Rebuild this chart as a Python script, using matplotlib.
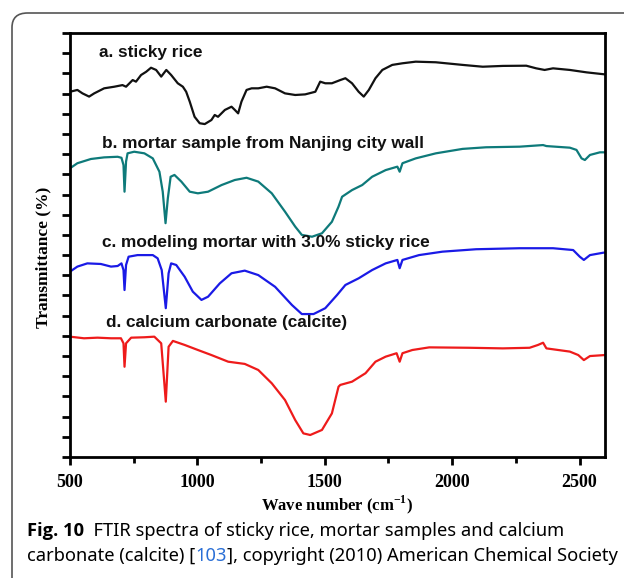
import matplotlib
matplotlib.use('Agg')
import numpy as np
import matplotlib.pyplot as plt
from matplotlib.patches import FancyBboxPatch

wn_a = [500, 529, 549, 575, 595, 634, 674, 706, 720, 746, 759, 779, 799, 818, 838, 858, 878,
        897, 923, 943, 956, 970, 989, 1009, 1029, 1055, 1068, 1081, 1108, 1134, 1147, 1160,
        1173, 1193, 1213, 1239, 1272, 1305, 1344, 1384, 1423, 1463, 1482, 1502, 1528, 1561,
        1581, 1607, 1633, 1653, 1673, 1699, 1726, 1765, 1805, 1857, 1936, 2041, 2120, 2199,
        2291, 2330, 2363, 2396, 2462, 2528, 2600]
t_a = [18.09, 18.18, 18.01, 17.85, 18.01, 18.26, 18.34, 18.42, 18.34, 18.67, 18.59, 18.92,
       19.08, 19.28, 19.17, 18.84, 19.17, 18.92, 18.51, 18.34, 18.09, 17.60, 16.85, 16.53,
       16.49, 16.69, 16.94, 16.85, 17.19, 17.35, 17.19, 17.02, 17.60, 18.18, 18.26, 18.26,
       18.34, 18.26, 18.01, 17.93, 17.96, 18.09, 18.59, 18.51, 18.51, 18.67, 18.76, 18.51,
       18.09, 17.85, 18.18, 18.76, 19.17, 19.42, 19.50, 19.58, 19.55, 19.42, 19.33, 19.37,
       19.38, 19.25, 19.17, 19.25, 19.17, 19.05, 18.95]

wn_b = [500, 529, 582, 634, 687, 702, 710, 714, 720, 726, 752, 792, 825, 851, 864, 875, 884,
        895, 910, 937, 970, 1002, 1042, 1095, 1147, 1193, 1239, 1292, 1344, 1384, 1410, 1450,
        1489, 1528, 1554, 1568, 1607, 1647, 1686, 1739, 1785, 1794, 1805, 1857, 1936, 2041,
        2133, 2265, 2357, 2370, 2462, 2488, 2508, 2521, 2541, 2580, 2600]
t_b = [14.30, 14.55, 14.76, 14.84, 14.87, 14.82, 14.46, 13.14, 14.63, 15.04, 15.12, 15.04,
       14.79, 14.13, 13.14, 11.58, 12.81, 13.88, 13.97, 13.64, 13.14, 13.06, 13.14, 13.47,
       13.72, 13.83, 13.64, 13.06, 12.15, 11.41, 11.00, 10.91, 11.08, 11.65, 12.40, 12.89,
       13.22, 13.47, 13.88, 14.21, 14.38, 14.13, 14.55, 14.79, 15.04, 15.26, 15.34, 15.37,
       15.45, 15.40, 15.32, 15.21, 14.79, 14.71, 14.96, 15.09, 15.09]

wn_c = [500, 529, 568, 621, 661, 687, 702, 710, 714, 720, 730, 765, 825, 844, 860, 876, 887,
        897, 917, 950, 982, 1016, 1042, 1088, 1134, 1186, 1239, 1305, 1371, 1410, 1456, 1502,
        1548, 1581, 1633, 1686, 1739, 1785, 1794, 1805, 1870, 1962, 2094, 2265, 2396, 2475,
        2501, 2517, 2541, 2594, 2600]
t_c = [9.18, 9.43, 9.59, 9.56, 9.43, 9.46, 9.59, 9.26, 8.27, 9.51, 9.92, 10.00, 10.00, 9.84,
       9.26, 7.37, 9.10, 9.59, 9.51, 8.93, 8.19, 7.78, 7.94, 8.60, 9.10, 9.23, 9.01, 8.43,
       7.53, 7.08, 7.08, 7.37, 8.02, 8.52, 8.85, 9.26, 9.59, 9.76, 9.35, 9.76, 10.00, 10.17,
       10.29, 10.34, 10.34, 10.25, 9.92, 9.76, 10.00, 10.12, 10.12]

wn_d = [500, 555, 608, 661, 700, 710, 714, 720, 740, 792, 831, 858, 876, 887, 904, 950, 1002,
        1055, 1121, 1186, 1239, 1292, 1344, 1384, 1416, 1443, 1489, 1528, 1554, 1561, 1607,
        1660, 1699, 1739, 1782, 1794, 1805, 1844, 1910, 2067, 2199, 2304, 2337, 2357, 2370,
        2462, 2495, 2517, 2541, 2600]
t_d = [5.96, 5.88, 5.91, 5.88, 5.88, 5.63, 4.47, 5.63, 5.91, 5.93, 5.96, 5.63, 2.74, 5.46,
       5.75, 5.55, 5.30, 5.05, 4.72, 4.61, 4.31, 3.65, 2.82, 1.83, 1.17, 1.09, 1.34, 2.16,
       3.48, 3.57, 3.73, 4.15, 4.72, 4.97, 5.14, 4.72, 5.14, 5.30, 5.43, 5.41, 5.38, 5.41,
       5.55, 5.66, 5.38, 5.22, 5.05, 4.80, 5.00, 5.05]

curve_labels = ['a. sticky rice', 'b. mortar sample from Nanjing city wall',
                'c. modeling mortar with 3.0% sticky rice', 'd. calcium carbonate (calcite)']
label_x = [614, 626, 626, 642]
label_y = [20.01, 15.55, 10.60, 6.64]
colors = ['#111111', '#0e7a7a', '#1a1ae6', '#ee1b1b']
x_ticks = [500, 1000, 1500, 2000, 2500]

plt.rcParams['mathtext.fontset'] = 'custom'
plt.rcParams['mathtext.rm'] = 'Liberation Serif:bold'
plt.rcParams['mathtext.bf'] = 'Liberation Serif:bold'

fig = plt.figure(figsize=(6.24, 5.78), dpi=100)

# rounded frame around the figure panel
frame = FancyBboxPatch((12 / 624, -0.2), 1.2, 1.2 - 13 / 578,
                       boxstyle='round,pad=0,rounding_size=0.025',
                       transform=fig.transFigure, fill=False,
                       edgecolor='#555555', lw=1.2)
fig.patches.append(frame)

ax = fig.add_axes([70 / 624, 1 - 457 / 578, 535 / 624, 424 / 578])
for wn, t, c in zip([wn_a, wn_b, wn_c, wn_d], [t_a, t_b, t_c, t_d], colors):
    ax.plot(wn, t, color=c, lw=1.6)

for lab, lx, ly in zip(curve_labels, label_x, label_y):
    ax.text(lx, ly, lab, fontsize=12.4, fontweight='bold', family='Liberation Sans',
            va='center', ha='left', color='#111111')

ax.set_xlim(500, 2600)
ax.set_ylim(0, 21)
ax.set_xticks(x_ticks)
ax.set_xticks(np.arange(750, 2600, 500), minor=True)
ax.set_yticks(np.arange(0, 22))
ax.set_yticklabels([])
ax.tick_params(axis='both', which='major', direction='out', length=6, width=2)
ax.tick_params(axis='x', which='minor', direction='out', length=4, width=2)
ax.tick_params(axis='x', pad=6)
for lab in ax.get_xticklabels():
    lab.set_family('Liberation Serif')
    lab.set_fontweight('bold')
    lab.set_fontsize(13)
for sp in ax.spines.values():
    sp.set_linewidth(2)

ax.set_xlabel('Wave number (cm$^{-1}$)', family='Liberation Serif', fontweight='bold',
              fontsize=12, labelpad=2)
ax.set_ylabel('Transmittance (%)', family='Liberation Serif', fontweight='bold',
              fontsize=12.5)
ax.yaxis.set_label_coords(-0.034, 0.47)

# caption
cap_size = 13.2
t1 = fig.text(27 / 624, 1 - 531 / 578, 'Fig. 10', family='Open Sans', fontweight='bold',
              fontsize=cap_size, va='center')
ax.annotate('  FTIR spectra of sticky rice, mortar samples and calcium', xy=(1, 0),
            xycoords=t1, va='bottom', family='Noto Sans', fontsize=cap_size,
            annotation_clip=False)
t3 = fig.text(27 / 624, 1 - 556 / 578, 'carbonate (calcite) [', family='Noto Sans',
              fontsize=cap_size, va='center')
t4 = ax.annotate('103', xy=(1, 0), xycoords=t3, va='bottom', family='Noto Sans',
                 fontsize=cap_size, color='#2a6fd6', annotation_clip=False)
ax.annotate('], copyright (2010) American Chemical Society', xy=(1, 0), xycoords=t4,
            va='bottom', family='Noto Sans', fontsize=cap_size, annotation_clip=False)

fig.savefig('out.png', dpi=100)
